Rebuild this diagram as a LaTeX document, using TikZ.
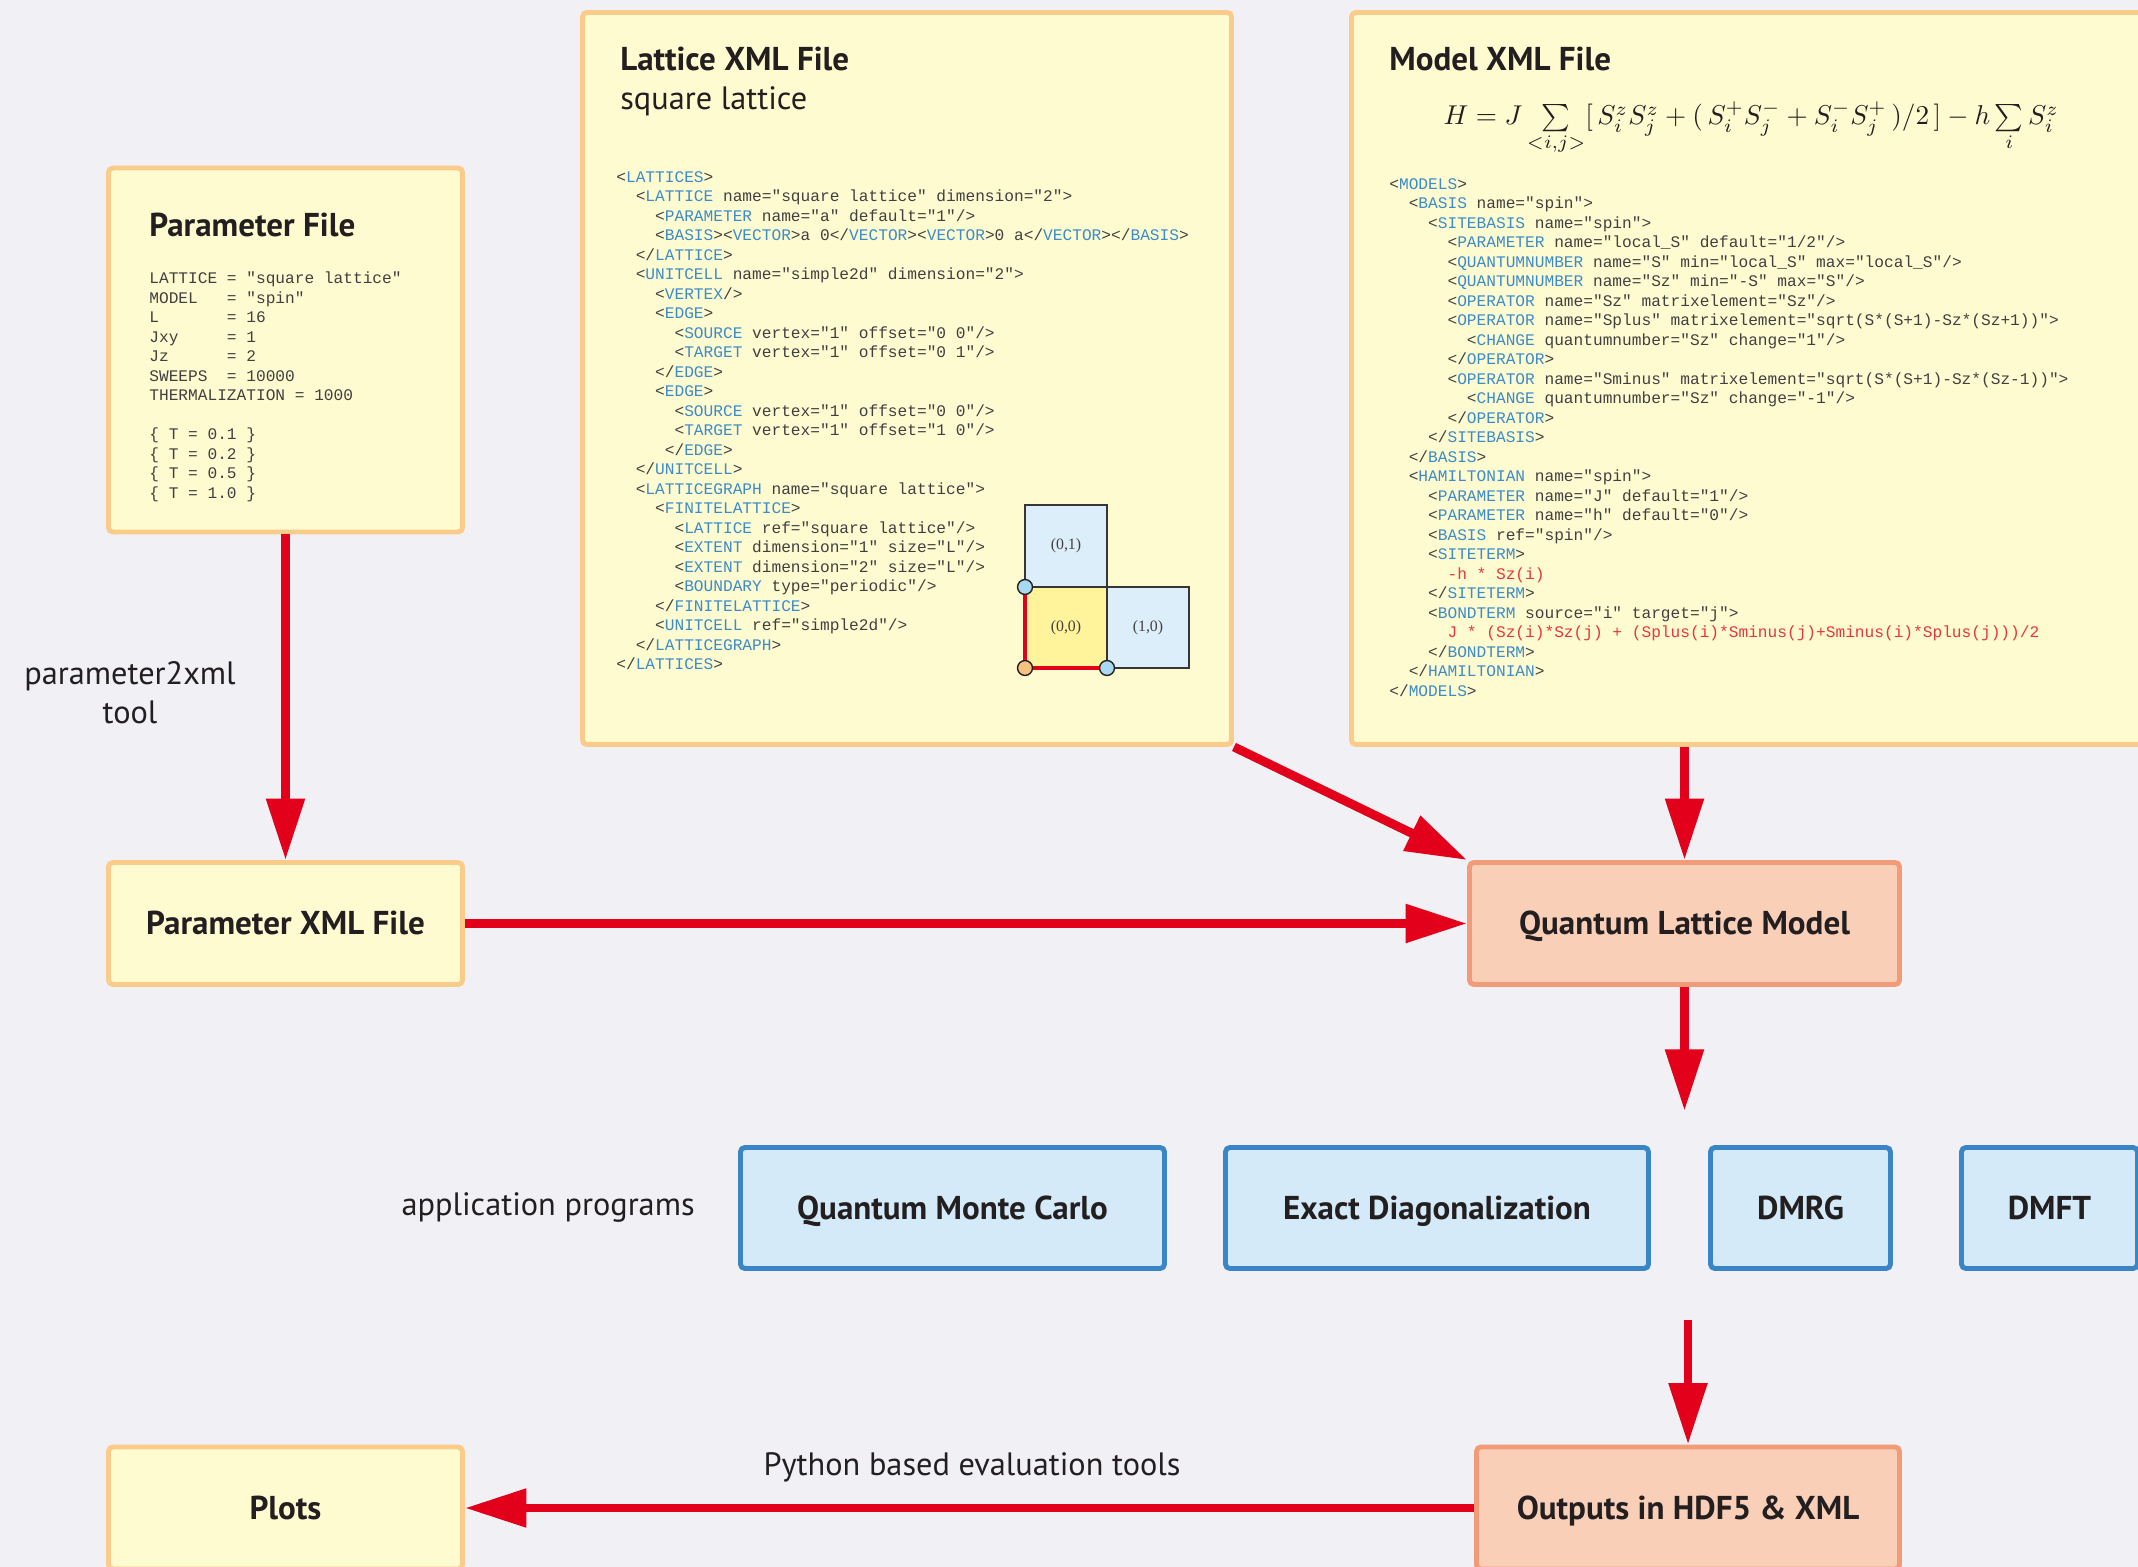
\documentclass[tikz,border=0pt]{standalone}
\usepackage{fontspec}
\usepackage{tikz}
\usetikzlibrary{arrows.meta, positioning, calc}
\newfontfamily\headfont{PT Sans}
\newfontfamily\codefont{Liberation Mono}
\newfontfamily\cellfont{Liberation Serif}
\definecolor{bgpaper}{HTML}{F1F0F5}
\definecolor{inkdark}{HTML}{231F20}
\definecolor{filefill}{HTML}{FFFBD1}
\definecolor{fileedge}{HTML}{FBCB8A}
\definecolor{qlmfill}{HTML}{FACFB8}
\definecolor{qlmedge}{HTML}{F29B78}
\definecolor{appfill}{HTML}{D4EAF8}
\definecolor{appedge}{HTML}{3A85C6}
\definecolor{flowred}{HTML}{E2001A}
\definecolor{tagblue}{HTML}{3B8CC8}
\definecolor{codegray}{HTML}{404040}
\definecolor{codered}{HTML}{E8353E}
\definecolor{cellblue}{HTML}{DCEEFA}
\definecolor{cellyel}{HTML}{FFF39B}
\definecolor{siteblue}{HTML}{A9D9F2}
\definecolor{siteorange}{HTML}{F5C27F}
% xml tag names in blue, indentation in character widths
\newcommand\tg[1]{\textcolor{tagblue}{#1}}
\newcommand\ind[1]{\hspace*{\dimexpr0.6em*#1\relax}}

\begin{document}
\begin{tikzpicture}[x=0.2mm, y=-0.2mm,
    filebox/.style={draw=fileedge, fill=filefill, line width=2.8pt, rounded corners=2.5pt, inner sep=0pt,
        text=inkdark, text height=13.5pt, text depth=0.7pt, font=\headfont\bfseries\fontsize{18.8}{22}\selectfont},
    modelbox/.style={filebox, draw=qlmedge, fill=qlmfill},
    appbox/.style={filebox, draw=appedge, fill=appfill},
    headtxt/.style={anchor=west, inner sep=0pt, text=inkdark, font=\headfont\bfseries\fontsize{18.8}{22}\selectfont},
    plaintxt/.style={inner sep=0pt, text=inkdark, font=\headfont\fontsize{18.4}{22}\selectfont},
    codetxt/.style={anchor=north west, inner sep=0pt, align=left, text=codegray, font=\codefont\fontsize{9.2}{11.1}\selectfont},
    celltxt/.style={inner sep=0pt, text=inkdark!85, font=\cellfont\fontsize{9}{10}\selectfont},
    cellline/.style={draw=inkdark!90, line width=0.8pt},
    site/.style={circle, draw=inkdark, line width=0.8pt, minimum size=8.5pt, inner sep=0pt},
    bond/.style={draw=flowred, line width=2.4pt},
    flow/.style={draw=flowred, line width=5.1pt, -{Triangle[length=35pt, width=21pt]}}]

    \useasboundingbox (0,0) rectangle (2138,1567);
    \clip (0,0) rectangle (2138,1567);
    \fill[bgpaper] (0,0) rectangle (2138,1567);

    % input files
    \node[filebox, minimum width=70.8mm, minimum height=72.8mm] (pfile) at (285.5,350) {};
    \node[headtxt] (pfiletitle) at (149,225) {Parameter File};
    \node[codetxt] (pfilecode) at (149,271.5) {%
LATTICE = "square lattice"\\
MODEL\ind{3}= "spin"\\
L\ind{7}= 16\\
Jxy\ind{5}= 1\\
Jz\ind{6}= 2\\
SWEEPS\ind{2}= 10000\\
THERMALIZATION = 1000\\[11.1pt]
\{ T = 0.1 \}\\
\{ T = 0.2 \}\\
\{ T = 0.5 \}\\
\{ T = 1.0 \}};

    \node[filebox, minimum width=129.8mm, minimum height=146.4mm] (lat) at (907,378.5) {};
    \node[headtxt] (lattitle) at (620,59) {Lattice XML File};
    \node[headtxt, font=\headfont\fontsize{18.4}{22}\selectfont] (latsub) at (620,101) {square lattice};
    \node[codetxt] (latcode) at (616,171) {%
<\tg{LATTICES}>\\
\ind{2}<\tg{LATTICE} name="square lattice" dimension="2">\\
\ind{4}<\tg{PARAMETER} name="a" default="1"/>\\
\ind{4}<\tg{BASIS}><\tg{VECTOR}>a 0</\tg{VECTOR}><\tg{VECTOR}>0 a</\tg{VECTOR}></\tg{BASIS}>\\
\ind{2}</\tg{LATTICE}>\\
\ind{2}<\tg{UNITCELL} name="simple2d" dimension="2">\\
\ind{4}<\tg{VERTEX}/>\\
\ind{4}<\tg{EDGE}>\\
\ind{6}<\tg{SOURCE} vertex="1" offset="0 0"/>\\
\ind{6}<\tg{TARGET} vertex="1" offset="0 1"/>\\
\ind{4}</\tg{EDGE}>\\
\ind{4}<\tg{EDGE}>\\
\ind{6}<\tg{SOURCE} vertex="1" offset="0 0"/>\\
\ind{6}<\tg{TARGET} vertex="1" offset="1 0"/>\\
\ind{5}</\tg{EDGE}>\\
\ind{2}</\tg{UNITCELL}>\\
\ind{2}<\tg{LATTICEGRAPH} name="square lattice">\\
\ind{4}<\tg{FINITELATTICE}>\\
\ind{6}<\tg{LATTICE} ref="square lattice"/>\\
\ind{6}<\tg{EXTENT} dimension="1" size="L"/>\\
\ind{6}<\tg{EXTENT} dimension="2" size="L"/>\\
\ind{6}<\tg{BOUNDARY} type="periodic"/>\\
\ind{4}</\tg{FINITELATTICE}>\\
\ind{4}<\tg{UNITCELL} ref="simple2d"/>\\
\ind{2}</\tg{LATTICEGRAPH}>\\
</\tg{LATTICES}>};

    % unit cell sketch
    \draw[cellline, fill=cellblue] (1025,505) rectangle (1107,587);
    \draw[cellline, fill=cellyel] (1025,587) rectangle (1107,668);
    \draw[cellline, fill=cellblue] (1107,587) rectangle (1189,668);
    \node[celltxt] (c01) at (1066,546) {(0,1)};
    \node[celltxt] (c00) at (1066,628) {(0,0)};
    \node[celltxt] (c10) at (1148,628) {(1,0)};
    \node[site, fill=siteblue] (s01) at (1025,587) {};
    \node[site, fill=siteorange] (s00) at (1025,668) {};
    \node[site, fill=siteblue] (s10) at (1107,668) {};
    \draw[bond] (s01) -- (s00) -- (s10);

    \node[filebox, minimum width=169.2mm, minimum height=146.4mm] (model) at (1774.5,378.5) {};
    \node[headtxt] (modeltitle) at (1389,59) {Model XML File};
    \node[anchor=base west, inner sep=0pt, text=inkdark, font=\fontsize{10}{12}\selectfont,
        scale=1.55, transform shape] (hamil) at (1443,125)
        {$H = J \sum\limits_{<i,j>} [\,S^z_i S^z_j + (\,S^+_i S^-_j + S^-_i S^+_j\,)/2\,] - h \sum\limits_i S^z_i$};
    \node[codetxt] (modelcode) at (1389,178) {%
<\tg{MODELS}>\\
\ind{2}<\tg{BASIS} name="spin">\\
\ind{4}<\tg{SITEBASIS} name="spin">\\
\ind{6}<\tg{PARAMETER} name="local\_S" default="1/2"/>\\
\ind{6}<\tg{QUANTUMNUMBER} name="S" min="local\_S" max="local\_S"/>\\
\ind{6}<\tg{QUANTUMNUMBER} name="Sz" min="-S" max="S"/>\\
\ind{6}<\tg{OPERATOR} name="Sz" matrixelement="Sz"/>\\
\ind{6}<\tg{OPERATOR} name="Splus" matrixelement="sqrt(S*(S+1)-Sz*(Sz+1))">\\
\ind{8}<\tg{CHANGE} quantumnumber="Sz" change="1"/>\\
\ind{6}</\tg{OPERATOR}>\\
\ind{6}<\tg{OPERATOR} name="Sminus" matrixelement="sqrt(S*(S+1)-Sz*(Sz-1))">\\
\ind{8}<\tg{CHANGE} quantumnumber="Sz" change="-1"/>\\
\ind{6}</\tg{OPERATOR}>\\
\ind{4}</\tg{SITEBASIS}>\\
\ind{2}</\tg{BASIS}>\\
\ind{2}<\tg{HAMILTONIAN} name="spin">\\
\ind{4}<\tg{PARAMETER} name="J" default="1"/>\\
\ind{4}<\tg{PARAMETER} name="h" default="0"/>\\
\ind{4}<\tg{BASIS} ref="spin"/>\\
\ind{4}<\tg{SITETERM}>\\
\ind{6}\textcolor{codered}{-h * Sz(i)}\\
\ind{4}</\tg{SITETERM}>\\
\ind{4}<\tg{BONDTERM} source="i" target="j">\\
\ind{6}\textcolor{codered}{J * (Sz(i)*Sz(j) + (Splus(i)*Sminus(j)+Sminus(i)*Splus(j)))/2}\\
\ind{4}</\tg{BONDTERM}>\\
\ind{2}</\tg{HAMILTONIAN}>\\
</\tg{MODELS}>};

    % flow boxes
    \node[filebox, minimum width=70.8mm, minimum height=24.4mm] (pxml) at (285.5,923.5) {Parameter XML File};
    \node[modelbox, minimum width=86mm, minimum height=24.4mm] (qlm) at (1684.5,923.5) {Quantum Lattice Model};
    \node[appbox, minimum width=84.8mm, minimum height=24.2mm] (qmc) at (952.5,1208) {Quantum Monte Carlo};
    \node[appbox, minimum width=84.6mm, minimum height=24.2mm] (ed) at (1437,1208) {Exact Diagonalization};
    \node[appbox, minimum width=36mm, minimum height=24.2mm] (dmrg) at (1800.5,1208) {DMRG};
    \node[appbox, minimum width=35.2mm, minimum height=24.2mm] (dmft) at (2049.5,1208) {DMFT};
    \node[modelbox, minimum width=84.6mm, minimum height=24.4mm] (out) at (1688,1508) {Outputs in HDF5 \& XML};
    \node[filebox, minimum width=70.8mm, minimum height=24.4mm] (plots) at (285.5,1508) {Plots};

    \node[plaintxt, align=center] (p2x) at (130,693) {parameter2xml\\tool};
    \node[plaintxt, anchor=east] (apps) at (695,1207) {application programs};
    \node[plaintxt] (pyeval) at (972,1467) {Python based evaluation tools};

    \coordinate (split) at ($(qlm.south)+(0,124)$);
    \coordinate (merge) at ($(out.north)+(0,-125)$);

    % arrows
    \draw[flow] (pfile) -- (pxml);
    \draw[flow] (pxml) -- (qlm);
    \draw[flow] (lat.south east) -- (qlm.north west);
    \draw[flow] (qlm.north |- model.south) -- (qlm.north);
    \draw[flow] (qlm) -- (split);
    \draw[flow] (merge) -- (out);
    \draw[flow] (out) -- (plots);
\end{tikzpicture}
\end{document}
